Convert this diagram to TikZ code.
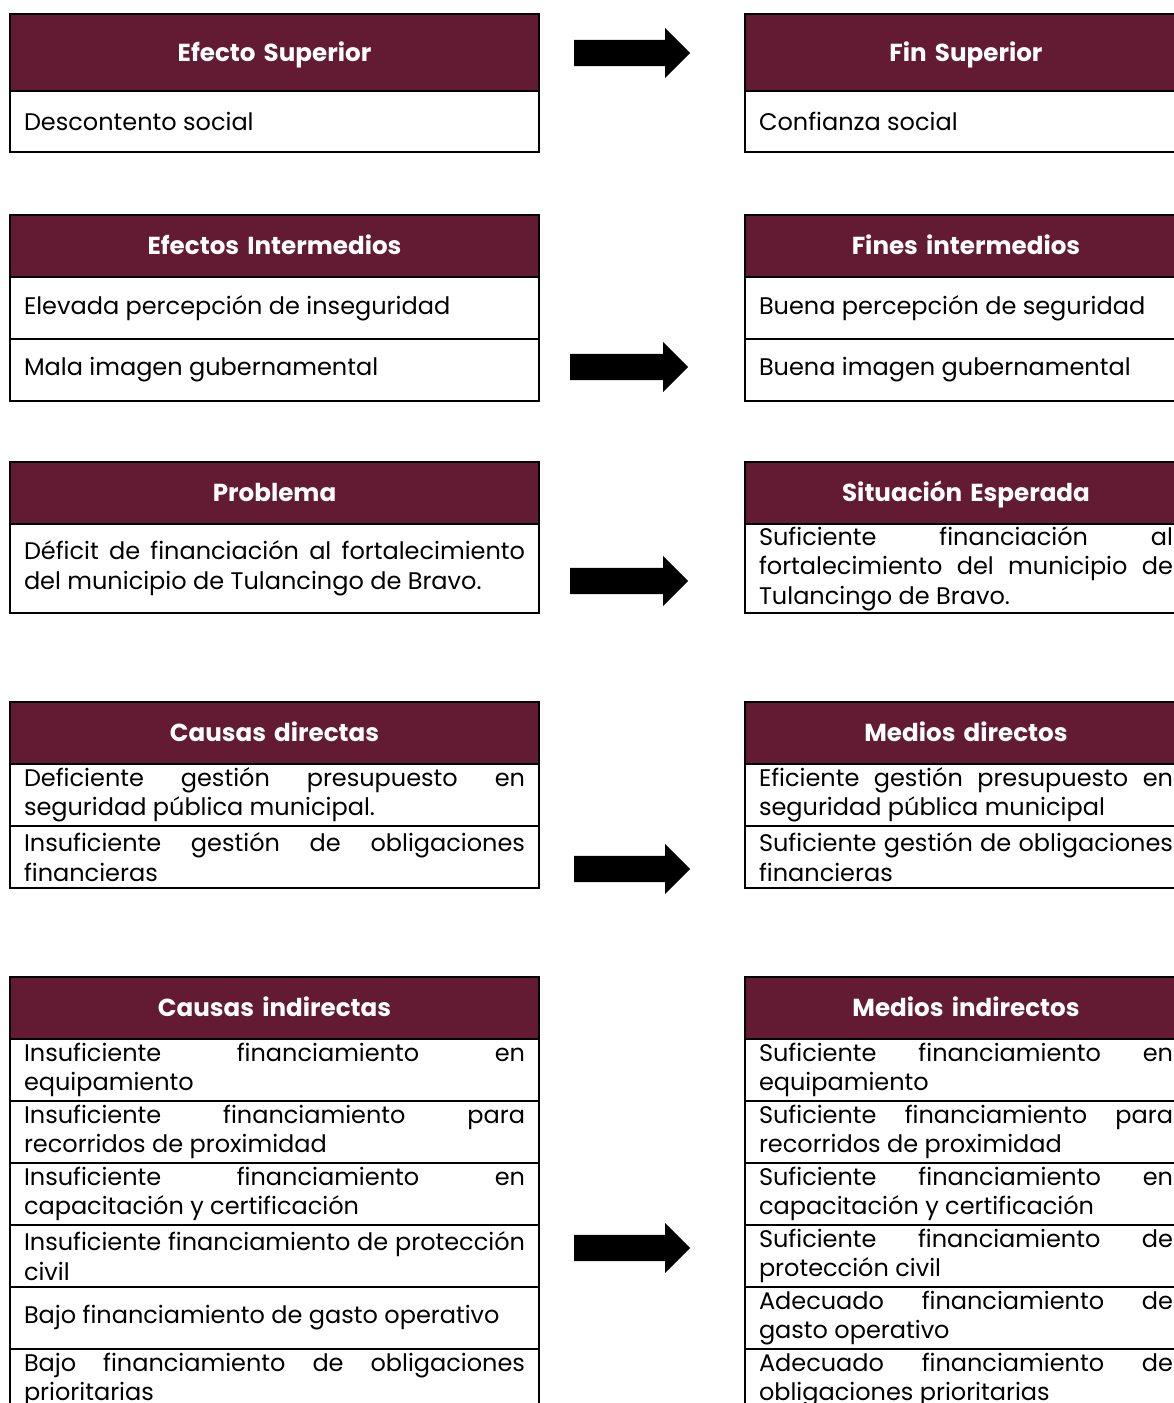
\documentclass[tikz,border=0pt]{standalone}
\usepackage{fontspec}
\setmainfont{Poppins}
\usetikzlibrary{positioning,shapes.arrows}
\definecolor{guinda}{HTML}{621B33}
\hyphenpenalty=10000
\exhyphenpenalty=10000

\begin{document}
\begin{tikzpicture}[
  x=1pt, y=1pt,
  box/.style={draw, line width=1.5pt, outer sep=0pt, inner xsep=14pt, inner ysep=0pt, minimum height=62pt},
  head/.style={box, fill=guinda, text=white, font=\bfseries\fontsize{24.6}{29}\selectfont, align=center,
    text height=17pt, text depth=0pt},
  cell/.style={box, font=\fontsize{24}{29.5}\selectfont, align=justify},
  lcol/.style={text width=501pt},
  rcol/.style={text width=414pt},
  bigarrow/.style={single arrow, fill=black, draw=none, inner xsep=0pt, inner ysep=13pt,
    single arrow head extend=12pt, single arrow tip angle=90, single arrow head indent=0pt,
    minimum height=116pt, anchor=tail},
  node distance=0pt,
  ]
  \useasboundingbox (0,0) rectangle (1174,-1403);

  % efectos / problema / causas
  \node[head, lcol, minimum height=77pt, anchor=north] (efs) at (274.5,-14) {Efecto Superior};
  \node[cell, lcol, minimum height=61pt, below=of efs] (efs1) {Descontento social};

  \node[head, lcol, anchor=north] (efi) at (274.5,-215) {Efectos Intermedios};
  \node[cell, lcol, below=of efi] (efi1) {Elevada percepción de inseguridad};
  \node[cell, lcol, below=of efi1] (efi2) {Mala imagen gubernamental};

  \node[head, lcol, anchor=north] (prob) at (274.5,-462) {Problema};
  \node[cell, lcol, minimum height=89pt, below=of prob] (prob1) {Déficit de financiación al fortalecimiento\linebreak del municipio de Tulancingo de Bravo.};

  \node[head, lcol, anchor=north] (cd) at (274.5,-702) {Causas directas};
  \node[cell, lcol, below=of cd] (cd1) {Deficiente gestión presupuesto en\linebreak seguridad pública municipal.};
  \node[cell, lcol, below=of cd1] (cd2) {Insuficiente gestión de obligaciones\linebreak financieras};

  \node[head, lcol, anchor=north] (ci) at (274.5,-977) {Causas indirectas};
  \node[cell, lcol, below=of ci] (ci1) {Insuficiente financiamiento en\linebreak equipamiento};
  \node[cell, lcol, below=of ci1] (ci2) {Insuficiente financiamiento para\linebreak recorridos de proximidad};
  \node[cell, lcol, below=of ci2] (ci3) {Insuficiente financiamiento en\linebreak capacitación y certificación};
  \node[cell, lcol, below=of ci3] (ci4) {Insuficiente financiamiento de protección\linebreak civil};
  \node[cell, lcol, below=of ci4] (ci5) {Bajo financiamiento de gasto operativo};
  \node[cell, lcol, below=of ci5] (ci6) {Bajo financiamiento de obligaciones\linebreak prioritarias};

  % fines / situacion / medios
  \node[head, rcol, minimum height=77pt, anchor=north] (fs) at (966,-14) {Fin Superior};
  \node[cell, rcol, minimum height=61pt, below=of fs] (fs1) {Confianza social};

  \node[head, rcol, anchor=north] (fi) at (966,-215) {Fines intermedios};
  \node[cell, rcol, below=of fi] (fi1) {Buena percepción de seguridad};
  \node[cell, rcol, below=of fi1] (fi2) {Buena imagen gubernamental};

  \node[head, rcol, anchor=north] (se) at (966,-462) {Situación Esperada};
  \node[cell, rcol, minimum height=89pt, below=of se] (se1) {Suficiente financiación al\linebreak fortalecimiento del municipio de\linebreak Tulancingo de Bravo.};

  \node[head, rcol, anchor=north] (md) at (966,-702) {Medios directos};
  \node[cell, rcol, below=of md] (md1) {Eficiente gestión presupuesto en\linebreak seguridad pública municipal};
  \node[cell, rcol, below=of md1] (md2) {Suficiente gestión de obligaciones\linebreak financieras};

  \node[head, rcol, anchor=north] (mi) at (966,-977) {Medios indirectos};
  \node[cell, rcol, below=of mi] (mi1) {Suficiente financiamiento en\linebreak equipamiento};
  \node[cell, rcol, below=of mi1] (mi2) {Suficiente financiamiento para\linebreak recorridos de proximidad};
  \node[cell, rcol, below=of mi2] (mi3) {Suficiente financiamiento en\linebreak capacitación y certificación};
  \node[cell, rcol, below=of mi3] (mi4) {Suficiente financiamiento de\linebreak protección civil};
  \node[cell, rcol, below=of mi4] (mi5) {Adecuado financiamiento de\linebreak gasto operativo};
  \node[cell, rcol, below=of mi5] (mi6) {Adecuado financiamiento de\linebreak obligaciones prioritarias};

  % flechas
  \node[bigarrow] (ar1) at (574,-53) {};
  \node[bigarrow, minimum height=118pt] (ar2) at (570,-367) {};
  \node[bigarrow, minimum height=118pt] (ar3) at (570,-581) {};
  \node[bigarrow] (ar4) at (574,-869) {};
  \node[bigarrow] (ar5) at (574,-1248) {};
\end{tikzpicture}
\end{document}
